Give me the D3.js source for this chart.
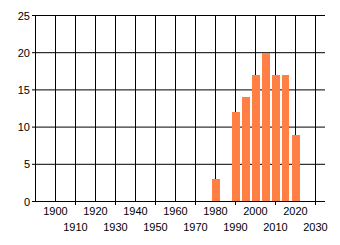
<!DOCTYPE html>
<html><head><meta charset="utf-8">
<script src="https://cdn.jsdelivr.net/npm/d3@7"></script>
<style>html,body{margin:0;padding:0;background:#fff;}svg{display:block;}text{font-family:"Liberation Sans",Arial,sans-serif;font-size:11px;fill:#000;}</style>
</head><body>
<script>
const years = [1980, 1990, 1995, 2000, 2005, 2010, 2015, 2020];
const counts = [3, 12, 14, 17, 20, 17, 17, 9];
const xTicks = [1900, 1910, 1920, 1930, 1940, 1950, 1960, 1970, 1980, 1990, 2000, 2010, 2020, 2030];
const yTicks = [0, 5, 10, 15, 20, 25];

const W = 340, H = 245;
const svg = d3.select("body").append("svg").attr("width", W).attr("height", H);
const x = d3.scaleLinear().domain([1890, 2035]).range([35.5, 325.5]);
const y = d3.scaleLinear().domain([0, 25]).range([201.5, 15.5]);

// horizontal gridlines
svg.append("g").selectAll("line").data(yTicks.filter(d => d > 0)).join("line")
  .attr("x1", 35).attr("x2", 325).attr("y1", d => y(d)).attr("y2", d => y(d))
  .attr("stroke", "#000").attr("stroke-width", 1);
// vertical gridlines
svg.append("g").selectAll("line").data(xTicks).join("line")
  .attr("x1", d => x(d)).attr("x2", d => x(d)).attr("y1", 15).attr("y2", 201.5)
  .attr("stroke", "#000").attr("stroke-width", 1);

// bars
svg.append("g").selectAll("rect").data(years).join("rect")
  .attr("x", (d) => Math.round(x(d - 2)))
  .attr("width", (d) => Math.round(x(d + 2)) - Math.round(x(d - 2)))
  .attr("y", (d, i) => Math.round(y(counts[i])))
  .attr("height", (d, i) => 201 - Math.round(y(counts[i])))
  .attr("fill", "#FF7F45");

// axes
svg.append("line").attr("x1", 35.5).attr("x2", 35.5).attr("y1", 15).attr("y2", 202)
  .attr("stroke", "#000");
svg.append("line").attr("x1", 32).attr("x2", 325).attr("y1", 201.5).attr("y2", 201.5)
  .attr("stroke", "#000");
// y ticks & labels
svg.append("g").selectAll("line").data(yTicks).join("line")
  .attr("x1", 32).attr("x2", 35).attr("y1", d => y(d)).attr("y2", d => y(d))
  .attr("stroke", "#000");
svg.append("g").selectAll("text").data(yTicks).join("text")
  .attr("x", 30).attr("y", d => y(d) + 4).attr("text-anchor", "end").text(d => d);

// x ticks below axis for second row
svg.append("g").selectAll("line").data(xTicks.filter((d, i) => i % 2 === 1)).join("line")
  .attr("x1", d => x(d)).attr("x2", d => x(d)).attr("y1", 201.5).attr("y2", 205)
  .attr("stroke", "#000");
svg.append("g").selectAll("text").data(xTicks).join("text")
  .attr("x", d => x(d)).attr("y", (d, i) => i % 2 === 0 ? 214.5 : 230.5)
  .attr("text-anchor", "middle").text(d => d);
</script>
</body></html>
